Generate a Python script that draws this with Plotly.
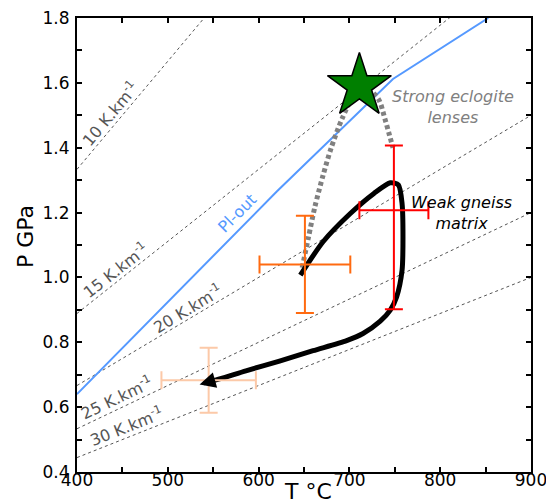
import plotly.graph_objects as go

# ---- data ----
geo_gradients = [10, 15, 20, 25, 30]          # K/km
geo_T = [400, 900]
geo_label_T = [437, 442, 522, 444, 454]
geo_label_P = [1.504, 1.022, 0.905, 0.63, 0.54]
geo_label_angle = [-50, -38, -31, -25.5, -21.6]

plout_T = [400, 620, 748, 853]
plout_P = [0.64, 1.265, 1.612, 1.80]

dotted_T = [648, 655, 662, 671, 680, 692, 705, 720, 732, 739, 744, 748]
dotted_P = [1.03, 1.125, 1.218, 1.315, 1.40, 1.49, 1.56, 1.58, 1.55, 1.49, 1.44, 1.40]

path_T = [646, 671, 701, 727, 745, 754, 758, 759, 758, 752, 745, 734, 715, 697, 660, 623, 586, 558, 546]
path_P = [1.007, 1.110, 1.197, 1.259, 1.292, 1.285, 1.228, 1.125, 1.022, 0.940, 0.899, 0.865, 0.827, 0.805, 0.774, 0.742, 0.712, 0.688, 0.679]
arrow_tip = (535, 0.670)

star_T = [711]
star_P = [1.59]

err_orange = dict(T=651, P=1.04, dT=50, dPp=0.15, dPm=0.15)
err_red = dict(T=749, P=1.207, dT=38, dPp=0.20, dPm=0.305)
err_peach = dict(T=545, P=0.683, dT=52, dPp=0.10, dPm=0.10)

x_ticks = [400, 500, 600, 700, 800, 900]
y_ticks = [0.4, 0.6, 0.8, 1.0, 1.2, 1.4, 1.6, 1.8]

FONT = "DejaVu Sans"
# page body has an 8px margin: plot area wanted at x 77..531, y 18..472 in the window
L, T_, W_PLOT, H_PLOT = 69, 10, 454, 454
FIG_W, FIG_H = 546, 495

fig = go.Figure()

# geotherms
for g in geo_gradients:
    fig.add_trace(go.Scatter(x=geo_T, y=[t / (g * 30.0) for t in geo_T], mode="lines",
                             line=dict(color="#555555", width=1, dash="3px,3px"),
                             hoverinfo="skip", showlegend=False))

# Pl-out
fig.add_trace(go.Scatter(x=plout_T, y=plout_P, mode="lines",
                         line=dict(color="#5599ff", width=2), showlegend=False))

# dotted grey path
fig.add_trace(go.Scatter(x=dotted_T, y=dotted_P, mode="lines", line_shape="spline",
                         line=dict(color="#808080", width=5, dash="4px,3px", smoothing=0.8),
                         showlegend=False))

# black PT path
fig.add_trace(go.Scatter(x=path_T, y=path_P, mode="lines", line_shape="spline",
                         line=dict(color="black", width=5, smoothing=0.7), showlegend=False))

# error bars
for e, col in [(err_orange, "#ff6a10"), (err_red, "#ff0000"), (err_peach, "#fcc9a8")]:
    fig.add_trace(go.Scatter(
        x=[e["T"]], y=[e["P"]], mode="markers", marker=dict(size=1, color=col, opacity=0),
        error_x=dict(type="constant", value=e["dT"], color=col, thickness=2, width=9),
        error_y=dict(type="data", symmetric=False, array=[e["dPp"]], arrayminus=[e["dPm"]],
                     color=col, thickness=2, width=9),
        showlegend=False))

# star
fig.add_trace(go.Scatter(x=star_T, y=star_P, mode="markers",
                         marker=dict(symbol="star", size=48, color="#007f00",
                                     line=dict(color="black", width=1.5)),
                         showlegend=False))

# arrow head
fig.add_annotation(x=arrow_tip[0], y=arrow_tip[1], ax=path_T[-1] + 3, ay=path_P[-1] + 0.002,
                   xref="x", yref="y", axref="x", ayref="y", showarrow=True,
                   arrowhead=2, arrowsize=0.8, arrowwidth=4, arrowcolor="black", standoff=0, text="")
# geotherm labels
for g, t, p, a in zip(geo_gradients, geo_label_T, geo_label_P, geo_label_angle):
    fig.add_annotation(x=t, y=p, xref="x", yref="y", showarrow=False, textangle=a,
                       text=f"{g} K.km<sup>-1</sup>", font=dict(family=FONT, size=16, color="#555555"))
fig.add_annotation(x=576, y=1.198, xref="x", yref="y", showarrow=False, textangle=-45,
                   text="Pl-out", font=dict(family=FONT, size=16, color="#5599ff"))
fig.add_annotation(x=814, y=1.525, xref="x", yref="y", showarrow=False,
                   text="<i>Strong eclogite<br>lenses</i>", font=dict(family=FONT, size=16, color="#808080"))
fig.add_annotation(x=824, y=1.198, xref="x", yref="y", showarrow=False,
                   text="<i>Weak gneiss<br>matrix</i>", font=dict(family=FONT, size=16, color="black"))
# axis titles (positions in window pixels converted to domain fractions)
fig.add_annotation(xref="x domain", yref="y domain", x=(308 - 77) / W_PLOT, y=-(491 - 472) / H_PLOT,
                   xanchor="center", yanchor="middle",
                   showarrow=False, text="T °C", font=dict(family=FONT, size=22, color="black"))
fig.add_annotation(xref="x domain", yref="y domain", x=(25 - 77) / W_PLOT, y=(472 - 237) / H_PLOT,
                   xanchor="center", yanchor="middle",
                   showarrow=False, text="P GPa", textangle=-90,
                   font=dict(family=FONT, size=22, color="black"))

axis_common = dict(showline=True, linecolor="black", linewidth=2, mirror="ticks",
                   ticks="inside", ticklen=5, tickwidth=1.5, tickcolor="black",
                   showgrid=False, zeroline=False, automargin=False, ticklabeloverflow="allow",
                   tickfont=dict(family=FONT, size=17, color="black"))
fig.update_xaxes(range=[400, 900], tickvals=x_ticks, ticktext=[str(v) for v in x_ticks],
                 minor=dict(ticks="inside", dtick=50, ticklen=5, tickwidth=1.5, tickcolor="black"),
                 ticklabelstandoff=-8, **axis_common)
fig.update_yaxes(range=[0.4, 1.8], tickvals=y_ticks, ticktext=[f"{v:.1f}" for v in y_ticks],
                 minor=dict(ticks="inside", dtick=0.1, ticklen=5, tickwidth=1.5, tickcolor="black"),
                 ticklabelstandoff=2, **axis_common)

fig.update_layout(width=FIG_W, height=FIG_H,
                  margin=dict(l=L, r=FIG_W - L - W_PLOT, t=T_, b=FIG_H - T_ - H_PLOT),
                  plot_bgcolor="white", paper_bgcolor="white", font=dict(family=FONT),
                  showlegend=False)
fig.write_html("out.html")
